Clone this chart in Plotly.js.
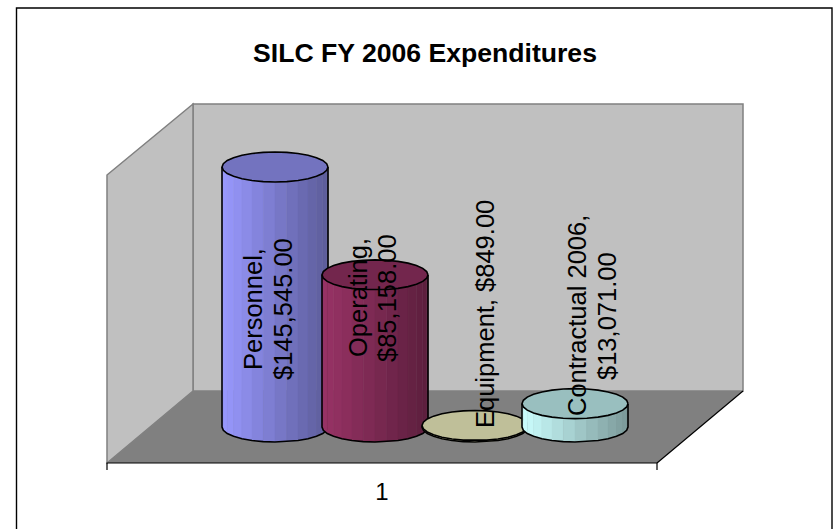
<!DOCTYPE html>
<html><head><meta charset="utf-8">
<script src="https://cdn.plot.ly/plotly-3.0.1.min.js"></script>
<style>html,body{margin:0;padding:0;background:#fff;overflow:hidden}</style>
</head><body><div id="chart" style="width:834px;height:529px"></div>
<script>
// ---- data ----
const categories = ['Personnel', 'Operating', 'Equipment', 'Contractual 2006'];
const amounts = [145545, 85158, 849, 13071];
const amountLabels = ['$145,545.00', '$85,158.00', '$849.00', '$13,071.00'];
const sideColors = ['#9999FF', '#993366', '#FFFFCC', '#CCFFFF'];
const axisTick = ['1'];
const chartTitle = 'SILC FY 2006 Expenditures';

// ---- layout geometry (screen pixels) ----
const W = 834, H = 529, PLOT_BOTTOM = 463, FLOOR_Y = 427, PX_PER_USD = 260 / 145545;
const FIRST_CENTER = 275, STEP = 100, RX = 53, RY = 15, FACETS = 14;
const FONT = '"Liberation Sans", Arial, sans-serif';
const val = p => (FLOOR_Y - p) / PX_PER_USD;           // screen y -> dollars
const pxX = p => p / W, pxY = p => (PLOT_BOTTOM - p) / PLOT_BOTTOM; // screen -> paper
const ry = RY / PX_PER_USD;

function shade(hex, f) {
  const n = parseInt(hex.slice(1), 16);
  return 'rgb(' + [(n >> 16) & 255, (n >> 8) & 255, n & 255].map(c => Math.round(c * f)).join(',') + ')';
}
const traces = [];
const plain = {type: 'scatter', mode: 'lines', showlegend: false, hoverinfo: 'skip'};

amounts.forEach((amount, i) => {
  const cx = FIRST_CENTER + i * STEP;
  // side of the cylinder: vertical facets, light on the left, dark on the right
  for (let k = 0; k < FACETS; k++) {
    const t0 = Math.PI * (1 - k / FACETS), t1 = Math.PI * (1 - (k + 1) / FACETS);
    const x0 = cx + RX * Math.cos(t0), x1 = cx + RX * Math.cos(t1);
    const bot0 = -ry * Math.sin(t0), bot1 = -ry * Math.sin(t1);
    const f = 1 - 0.4 * ((x0 + x1) / 2 - (cx - RX)) / (2 * RX);
    const c = shade(sideColors[i], f);
    traces.push(Object.assign({}, plain, {
      x: [x0, x1, x1, x0, x0], y: [amount, amount, bot1, bot0, amount],
      fill: 'toself', fillcolor: c, line: {color: c, width: 0.5}
    }));
  }
  // outline of the side
  const ox = [], oy = [];
  ox.push(cx - RX); oy.push(amount);
  for (let k = 0; k <= FACETS; k++) {
    const t = Math.PI * (1 - k / FACETS);
    ox.push(cx + RX * Math.cos(t)); oy.push(-ry * Math.sin(t));
  }
  ox.push(cx + RX); oy.push(amount);
  traces.push(Object.assign({}, plain, {x: ox, y: oy, line: {color: '#000', width: 1.6}}));
  // top cap
  const tx = [], ty = [];
  for (let k = 0; k <= 2 * FACETS; k++) {
    const t = Math.PI * k / FACETS;
    tx.push(cx + RX * Math.cos(t)); ty.push(amount + ry * Math.sin(t));
  }
  traces.push(Object.assign({}, plain, {
    x: tx, y: ty, fill: 'toself', fillcolor: shade(sideColors[i], 0.75),
    line: {color: '#000', width: 1.6}
  }));
});

// ---- label placement (screen pixels of each text line's centre) ----
const labelLineX = [[253, 283], [358, 387], [485], [577, 607]];
const labelY = [309, 298, 314, 316];
const labelLines = categories.map((c, i) =>
  labelLineX[i].length === 2 ? [c + ',', amountLabels[i]] : [c + ', ' + amountLabels[i]]);
const annotations = [];
labelLines.forEach((lines, i) => lines.forEach((line, j) => annotations.push({
  x: labelLineX[i][j], y: val(labelY[i]), xref: 'x', yref: 'y', showarrow: false, textangle: -90,
  text: line, font: {family: FONT, size: 25.5, color: '#000'}
})));

// ---- walls, floor, frame ----
const path = pts => 'M' + pts.map(p => pxX(p[0]) + ',' + pxY(p[1])).join('L');
const sh = (pts, fill, color, width, close) => ({
  type: 'path', xref: 'paper', yref: 'paper', layer: 'below',
  path: path(pts) + (close ? 'Z' : ''), fillcolor: fill, line: {color: color, width: width}
});
const none = 'rgba(0,0,0,0)';
const shapes = [
  sh([[193, 104], [743, 104], [743, 391], [193, 391]], '#C0C0C0', '#808080', 1.5, true),
  sh([[107, 175], [193, 104], [193, 391], [107, 463]], '#C0C0C0', '#808080', 1.5, true),
  sh([[107, 463], [193, 391], [743, 391], [657, 463]], '#808080', none, 0, true),
  sh([[107, 470], [107, 463], [657, 463], [657, 470]], none, '#000', 1.2, false),
  sh([[657, 463], [743, 391]], none, '#000', 1.2, false),
  sh([[16.5, 540], [16.5, 8], [832, 8], [832, 540]], none, '#000', 1.4, false)
];

Plotly.newPlot('chart', traces, {
  width: W, height: H, margin: {l: 0, r: 0, t: 0, b: H - PLOT_BOTTOM, pad: 0},
  paper_bgcolor: '#fff', plot_bgcolor: 'rgba(0,0,0,0)', showlegend: false,
  title: {text: chartTitle, x: 425 / W, xanchor: 'center', xref: 'paper',
          y: 1 - 53 / H, yref: 'container', yanchor: 'middle',
          font: {family: FONT, size: 26.6, color: '#000', weight: 700}},
  xaxis: {range: [0, W], showgrid: false, zeroline: false, showline: false, fixedrange: true,
          tickmode: 'array', tickvals: [(107 + 657) / 2], ticktext: axisTick, ticks: '',
          ticklabelstandoff: 12, tickfont: {family: FONT, size: 24, color: '#000'}},
  yaxis: {range: [val(PLOT_BOTTOM), val(0)], visible: false, fixedrange: true},
  shapes: shapes, annotations: annotations
}, {displayModeBar: false, staticPlot: true});
</script></body></html>
